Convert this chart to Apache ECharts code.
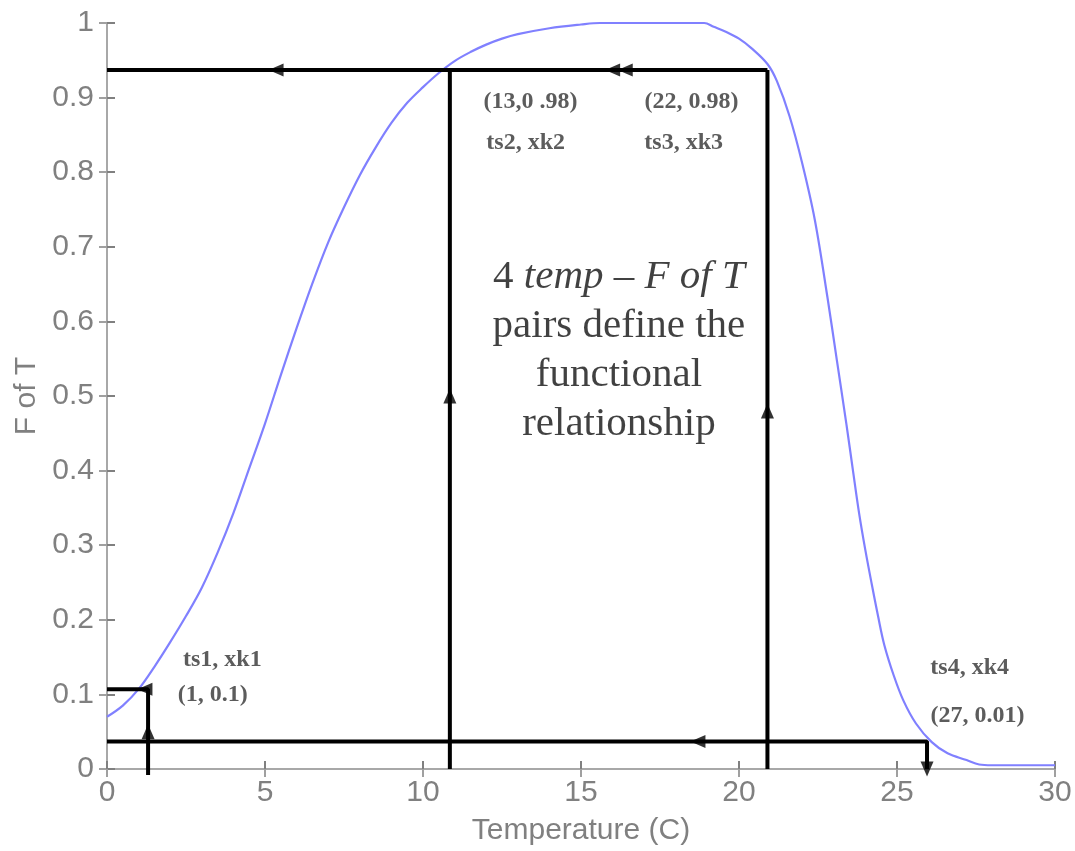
<!DOCTYPE html>
<html>
<head>
<meta charset="utf-8">
<script src="https://cdn.jsdelivr.net/npm/echarts@6/dist/echarts.min.js"></script>
<style>html,body{margin:0;padding:0;background:#fff}#c{width:1075px;height:851px}</style>
</head>
<body>
<div id="c"></div>
<script>
// Curve: F of T vs temperature
const curveT = [0, 0.5, 1.0, 1.5, 2.0, 2.5, 3.0, 3.5, 4.0, 4.5, 5.0, 5.5, 6.0, 6.5, 7.0, 7.5, 8.0, 8.5, 9.0, 9.5, 10.0, 10.5, 11.0, 11.5, 12.0, 12.5, 13.0, 14.0, 15.0, 15.6, 17.0, 18.9, 19.2, 19.6, 20.0, 20.4, 20.9, 21.2, 21.6, 22.0, 22.4, 22.8, 23.1, 23.4, 23.6, 23.8, 24.0, 24.2, 24.4, 24.6, 24.9, 25.2, 25.6, 26.1, 26.6, 27.2, 27.6, 28.0, 29.0, 30.0];
const curveF = [0.07, 0.085, 0.107, 0.137, 0.170, 0.205, 0.243, 0.29, 0.343, 0.403, 0.463, 0.528, 0.591, 0.651, 0.706, 0.753, 0.796, 0.833, 0.866, 0.893, 0.914, 0.933, 0.949, 0.961, 0.971, 0.979, 0.985, 0.993, 0.998, 1.0, 1.0, 1.0, 0.995, 0.988, 0.979, 0.966, 0.945, 0.922, 0.875, 0.812, 0.736, 0.632, 0.547, 0.462, 0.402, 0.343, 0.293, 0.248, 0.205, 0.166, 0.125, 0.092, 0.061, 0.036, 0.021, 0.012, 0.006, 0.005, 0.005, 0.005];

// Construction lines (black)
const lineTop = [[0, 0.937], [20.9, 0.937]];
const lineV2 = [[10.85, 0.937], [10.85, 0]];
const lineV3 = [[20.9, 0.937], [20.9, 0]];
const lineBottom = [[0, 0.037], [25.95, 0.037], [25.95, 0]];
const lineSmall = [[0, 0.107], [1.3, 0.107], [1.3, -0.008]];

// Arrow heads
const arrowsLeft = [[5.35, 0.937], [16.0, 0.937], [16.4, 0.937], [18.7, 0.037], [1.2, 0.107]];
const arrowsUp = [[10.85, 0.50], [20.9, 0.48], [1.3, 0.05]];
const arrowsDown = [[25.95, 0.0]];

// Annotation labels
const annotations = [
  {t: 13.4, f: 0.895, text: '(13,0 .98)'},
  {t: 13.25, f: 0.84, text: 'ts2, xk2'},
  {t: 18.5, f: 0.895, text: '(22, 0.98)'},
  {t: 18.25, f: 0.84, text: 'ts3, xk3'},
  {t: 3.65, f: 0.147, text: 'ts1, xk1'},
  {t: 3.35, f: 0.10, text: '(1, 0.1)'},
  {t: 27.3, f: 0.135, text: 'ts4, xk4'},
  {t: 27.55, f: 0.071, text: '(27, 0.01)'}
];
const mainNote = {t: 16.2, f: 0.561};

const xTicks = ['0', '5', '10', '15', '20', '25', '30'];
const yTicks = ['0', '0.1', '0.2', '0.3', '0.4', '0.5', '0.6', '0.7', '0.8', '0.9', '1'];

const tickFont = "'Liberation Sans Narrow', 'Liberation Sans', Arial, sans-serif";
const serif = "'Liberation Serif', 'Times New Roman', serif";

const chart = echarts.init(document.getElementById('c'), null, {renderer: 'canvas'});

function blackLine(data) {
  return {type: 'line', data: data, symbol: 'none', clip: false, z: 4,
    lineStyle: {color: '#000', width: 4}, animation: false};
}
function arrows(data, rot) {
  return {type: 'scatter', data: data, symbol: 'triangle', symbolSize: [13, 15], symbolRotate: rot,
    clip: false, z: 6, itemStyle: {color: '#000'}, animation: false};
}

const option = {
  animation: false,
  backgroundColor: '#fff',
  grid: {left: 107, right: 20, top: 23, bottom: 78, containLabel: false},
  xAxis: [{
    type: 'value', min: 0, max: 30, interval: 5,
    name: 'Temperature (C)', nameLocation: 'middle', nameGap: 47,
    nameTextStyle: {color: '#808080', fontSize: 30, fontFamily: tickFont},
    axisLine: {show: true, lineStyle: {color: '#808080', width: 2}},
    axisTick: {show: true, inside: true, length: 8, lineStyle: {color: '#808080', width: 2}},
    axisLabel: {color: '#808080', fontSize: 30, fontFamily: tickFont, margin: 9,
      formatter: (v) => xTicks[Math.round(v / 5)]},
    splitLine: {show: false}
  }, {
    type: 'value', min: 0, max: 30, interval: 5, position: 'top',
    axisLine: {show: true, lineStyle: {color: '#a8a8a8', width: 2}},
    axisTick: {show: true, inside: true, length: 8, lineStyle: {color: '#a0a0a0', width: 2}},
    axisLabel: {show: false}, splitLine: {show: false}
  }],
  yAxis: [{
    type: 'value', min: 0, max: 1, interval: 0.1,
    name: 'F of T', nameLocation: 'middle', nameGap: 60, nameRotate: 90,
    nameTextStyle: {color: '#808080', fontSize: 30, fontFamily: tickFont},
    axisLine: {show: true, lineStyle: {color: '#808080', width: 2}},
    axisTick: {show: true, inside: true, length: 8, lineStyle: {color: '#808080', width: 2}},
    axisLabel: {color: '#808080', fontSize: 30, fontFamily: tickFont, margin: 13,
      formatter: (v) => yTicks[Math.round(v * 10)]},
    splitLine: {show: false}
  }, {
    type: 'value', min: 0, max: 1, interval: 0.1, position: 'right',
    axisLine: {show: true, lineStyle: {color: '#a8a8a8', width: 2}},
    axisTick: {show: true, inside: true, length: 8, lineStyle: {color: '#a0a0a0', width: 2}},
    axisLabel: {show: false}, splitLine: {show: false}
  }],
  series: [
    {type: 'line', data: curveT.map((t, i) => [t, curveF[i]]), symbol: 'none', smooth: 0.35,
      lineStyle: {color: '#8080ff', width: 2.2}, z: 3, clip: false},
    blackLine(lineTop), blackLine(lineV2), blackLine(lineV3), blackLine(lineBottom), blackLine(lineSmall),
    arrows(arrowsLeft, 90), arrows(arrowsUp, 0), arrows(arrowsDown, 180),
    {type: 'scatter', symbolSize: 0, z: 8, clip: false,
      data: annotations.map(a => ({value: [a.t, a.f], label: {formatter: a.text}})),
      label: {show: true, position: 'inside', color: '#333', fontSize: 24, fontWeight: 'bold',
        fontFamily: serif, align: 'center', verticalAlign: 'middle'}},
    {type: 'scatter', symbolSize: 0, z: 8, clip: false,
      data: [[mainNote.t, mainNote.f]],
      label: {show: true, position: 'inside', align: 'center', verticalAlign: 'middle',
        formatter: '{n|4 }{i|temp}{n| \u2013 }{i|F of T}\n{n|pairs define the}\n{n|functional}\n{n|relationship}',
        lineHeight: 49,
        rich: {
          n: {fontSize: 41, fontFamily: serif, color: '#111', lineHeight: 49},
          i: {fontSize: 41, fontFamily: serif, fontStyle: 'italic', color: '#111', lineHeight: 49}
        }}}
  ]
};
chart.setOption(option);
</script>
</body>
</html>
